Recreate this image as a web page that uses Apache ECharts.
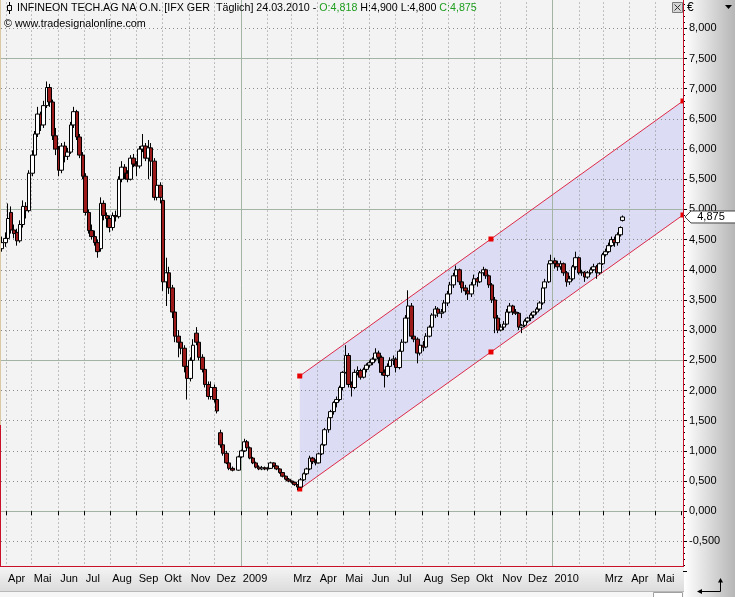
<!DOCTYPE html>
<html><head><meta charset="utf-8">
<script src="https://cdn.jsdelivr.net/npm/echarts@6/dist/echarts.min.js"></script>
<style>html,body{margin:0;padding:0;background:#f3f3f3;overflow:hidden}#c{width:735px;height:597px}</style>
</head><body><div id="c"></div>
<script>
// ---- data ----
const dates = [
'2008-03-27','2008-03-31','2008-04-03','2008-04-07','2008-04-10','2008-04-14','2008-04-17','2008-04-21','2008-04-24','2008-04-28',
'2008-05-02','2008-05-05','2008-05-08','2008-05-12','2008-05-15','2008-05-19','2008-05-22','2008-05-26','2008-05-29','2008-06-02',
'2008-06-05','2008-06-09','2008-06-12','2008-06-16','2008-06-19','2008-06-23','2008-06-26','2008-06-30','2008-07-03','2008-07-07',
'2008-07-10','2008-07-14','2008-07-17','2008-07-21','2008-07-24','2008-07-28','2008-07-31','2008-08-04','2008-08-07','2008-08-11',
'2008-08-14','2008-08-18','2008-08-21','2008-08-25','2008-08-28','2008-09-01','2008-09-04','2008-09-08','2008-09-11','2008-09-15',
'2008-09-18','2008-09-22','2008-09-25','2008-09-29','2008-10-02','2008-10-06','2008-10-09','2008-10-13','2008-10-16','2008-10-20',
'2008-10-23','2008-10-27','2008-10-30','2008-11-03','2008-11-06','2008-11-10','2008-11-13','2008-11-17','2008-11-20','2008-11-24',
'2008-11-27','2008-12-01','2008-12-04','2008-12-08','2008-12-11','2008-12-15','2008-12-18','2008-12-22','2008-12-29','2009-01-02',
'2009-01-05','2009-01-08','2009-01-12','2009-01-15','2009-01-19','2009-01-22','2009-01-26','2009-01-29','2009-02-02','2009-02-05',
'2009-02-09','2009-02-12','2009-02-16','2009-02-19','2009-02-23','2009-02-26','2009-03-02','2009-03-05','2009-03-09','2009-03-12',
'2009-03-16','2009-03-19','2009-03-23','2009-03-26','2009-03-30','2009-04-02','2009-04-06','2009-04-09','2009-04-14','2009-04-16',
'2009-04-20','2009-04-23','2009-04-27','2009-04-30','2009-05-04','2009-05-07','2009-05-11','2009-05-14','2009-05-18','2009-05-21',
'2009-05-25','2009-05-28','2009-06-01','2009-06-04','2009-06-08','2009-06-11','2009-06-15','2009-06-18','2009-06-22','2009-06-25',
'2009-06-29','2009-07-02','2009-07-06','2009-07-09','2009-07-13','2009-07-16','2009-07-20','2009-07-23','2009-07-27','2009-07-30',
'2009-08-03','2009-08-06','2009-08-10','2009-08-13','2009-08-17','2009-08-20','2009-08-24','2009-08-27','2009-08-31','2009-09-03',
'2009-09-07','2009-09-10','2009-09-14','2009-09-17','2009-09-21','2009-09-24','2009-09-28','2009-10-01','2009-10-05','2009-10-08',
'2009-10-12','2009-10-15','2009-10-19','2009-10-22','2009-10-26','2009-10-29','2009-11-02','2009-11-05','2009-11-09','2009-11-12',
'2009-11-16','2009-11-19','2009-11-23','2009-11-26','2009-11-30','2009-12-03','2009-12-07','2009-12-10','2009-12-14','2009-12-17',
'2009-12-21','2009-12-23','2009-12-28','2009-12-30','2010-01-04','2010-01-07','2010-01-11','2010-01-14','2010-01-18','2010-01-21',
'2010-01-25','2010-01-28','2010-02-01','2010-02-04','2010-02-08','2010-02-11','2010-02-15','2010-02-18','2010-02-22','2010-02-25',
'2010-03-01','2010-03-04','2010-03-08','2010-03-11','2010-03-15','2010-03-18','2010-03-22','2010-03-24'];
const opens = [
4.35,4.45,4.52,4.95,4.66,4.62,4.48,4.75,5.05,4.98, 5.60,5.90,6.25,6.58,6.40,6.72,7.02,6.78,6.22,6.00,
5.65,6.05,5.88,5.95,6.40,6.62,6.20,5.90,5.55,4.95, 4.65,4.55,4.45,4.35,5.10,4.90,4.85,4.70,4.90,4.88,
5.50,5.70,5.60,5.50,5.85,5.75,5.72,6.00,6.05,5.85, 6.02,5.80,5.20,5.40,5.15,3.80,3.95,3.70,3.30,2.90,
2.80,2.70,2.40,2.20,2.50,2.95,2.80,2.55,2.35,2.10, 1.90,2.05,1.85,1.30,1.10,0.96,0.80,0.71,0.68,0.90,
1.00,1.15,1.05,0.88,0.80,0.73,0.70,0.72,0.70,0.71, 0.80,0.75,0.70,0.64,0.58,0.53,0.50,0.48,0.44,0.40,
0.52,0.62,0.70,0.88,0.82,0.80,0.95,1.10,1.35,1.55, 1.65,1.80,1.85,2.05,2.30,2.58,2.10,2.05,2.30,2.33,
2.22,2.35,2.42,2.46,2.52,2.62,2.55,2.30,2.25,2.40, 2.50,2.52,2.38,2.65,2.80,3.20,3.40,2.90,2.85,2.62,
2.75,2.72,2.90,3.05,3.25,3.35,3.28,3.30,3.45,3.60, 3.75,3.90,4.00,3.80,3.70,3.65,3.60,3.75,3.85,3.80,
3.95,4.00,3.90,3.75,3.50,3.20,3.00,3.05,3.10,3.30, 3.40,3.30,3.28,3.05,3.08,3.15,3.20,3.25,3.30,3.35,
3.45,3.70,3.80,4.10,4.15,4.10,4.05,4.10,3.95,3.80, 3.85,4.05,4.20,3.95,3.96,3.88,3.95,4.00,4.05,3.95,
4.10,4.25,4.30,4.40,4.50,4.45,4.58,4.818];
const highs = [
4.55,4.62,5.10,5.05,4.75,4.68,4.82,5.15,5.12,5.65, 5.98,6.30,6.70,6.62,6.80,7.12,7.08,6.82,6.35,6.05,
6.10,6.12,6.02,6.45,6.70,6.65,6.25,5.95,5.60,5.00, 4.75,4.65,4.50,5.20,5.15,4.95,4.90,4.95,4.98,5.55,
5.80,5.75,5.65,5.90,5.92,5.80,6.05,6.25,6.10,6.15, 6.10,5.85,5.45,5.45,5.20,4.20,4.05,3.75,3.35,3.00,
2.90,2.75,2.50,2.55,2.85,3.05,2.85,2.60,2.40,2.15, 2.15,2.10,1.90,1.35,1.12,1.00,0.82,0.74,0.92,1.02,
1.20,1.18,1.07,0.90,0.82,0.76,0.75,0.74,0.73,0.82, 0.81,0.76,0.71,0.65,0.59,0.55,0.51,0.49,0.45,0.55,
0.64,0.72,0.92,0.90,0.86,0.97,1.12,1.38,1.58,1.68, 1.82,1.90,2.08,2.32,2.75,2.62,2.15,2.35,2.40,2.36,
2.38,2.45,2.50,2.55,2.70,2.66,2.58,2.35,2.45,2.55, 2.58,2.55,2.68,2.85,3.25,3.66,3.45,3.00,2.88,2.80,
2.82,2.95,3.08,3.28,3.40,3.38,3.35,3.50,3.65,3.80, 3.95,4.07,4.02,3.85,3.75,3.68,3.80,3.92,3.88,3.98,
4.05,4.02,3.92,3.78,3.55,3.25,3.10,3.15,3.35,3.45, 3.42,3.35,3.30,3.10,3.18,3.22,3.28,3.32,3.38,3.48,
3.72,3.85,4.12,4.25,4.20,4.15,4.15,4.12,3.98,3.90, 4.08,4.30,4.22,4.00,3.98,3.98,4.04,4.10,4.08,4.12,
4.28,4.35,4.45,4.55,4.55,4.62,4.72,4.90];
const lows = [
4.30,4.38,4.48,4.60,4.52,4.40,4.45,4.70,4.85,4.95, 5.55,5.85,6.20,6.30,6.35,6.68,6.70,6.15,5.90,5.55,
5.60,5.78,5.82,5.92,6.35,6.15,5.85,5.50,4.90,4.60, 4.50,4.40,4.20,4.30,4.82,4.70,4.62,4.65,4.80,4.85,
5.45,5.50,5.45,5.48,5.70,5.55,5.68,5.95,5.80,5.50, 5.55,5.15,5.15,5.10,3.65,3.40,3.60,3.20,2.80,2.55,
2.60,2.30,1.85,2.15,2.45,2.75,2.50,2.30,2.05,1.85, 1.85,1.80,1.62,1.05,0.92,0.78,0.68,0.66,0.67,0.88,
0.98,1.00,0.86,0.78,0.71,0.68,0.68,0.68,0.67,0.70, 0.73,0.68,0.62,0.56,0.51,0.48,0.46,0.42,0.35,0.39,
0.50,0.60,0.68,0.78,0.76,0.79,0.93,1.08,1.30,1.50, 1.60,1.72,1.82,2.00,2.28,2.05,1.90,2.02,2.25,2.18,
2.20,2.30,2.38,2.42,2.48,2.45,2.25,2.05,2.22,2.38, 2.42,2.30,2.35,2.60,2.78,3.15,2.85,2.80,2.45,2.58,
2.65,2.70,2.88,3.02,3.20,3.22,3.20,3.28,3.40,3.55, 3.70,3.85,3.75,3.62,3.58,3.50,3.55,3.70,3.72,3.78,
3.90,3.85,3.70,3.45,2.95,2.95,2.98,3.00,3.08,3.28, 3.25,3.25,3.00,2.95,3.05,3.12,3.15,3.20,3.26,3.32,
3.42,3.68,3.78,4.05,4.02,3.98,4.00,3.90,3.72,3.75, 3.82,4.00,3.92,3.90,3.80,3.85,3.92,3.98,3.85,3.92,
4.08,4.22,4.28,4.38,4.38,4.40,4.55,4.80];
const closes = [
4.45,4.52,4.85,4.66,4.60,4.48,4.75,5.05,4.98,5.60, 5.90,6.25,6.58,6.40,6.72,7.02,6.78,6.22,6.00,5.65,
6.05,5.88,5.95,6.40,6.62,6.20,5.90,5.55,4.95,4.65, 4.55,4.45,4.30,5.10,4.90,4.85,4.70,4.90,4.88,5.50,
5.70,5.60,5.50,5.85,5.75,5.72,6.00,6.05,5.85,6.02, 5.80,5.20,5.40,5.20,3.80,3.95,3.70,3.30,2.90,2.80,
2.70,2.40,2.20,2.50,2.75,2.80,2.55,2.35,2.10,1.90, 2.05,1.85,1.66,1.10,0.96,0.80,0.71,0.68,0.90,1.00,
1.15,1.05,0.88,0.80,0.73,0.70,0.72,0.70,0.71,0.80, 0.75,0.70,0.64,0.58,0.53,0.50,0.48,0.44,0.40,0.52,
0.62,0.70,0.88,0.82,0.80,0.95,1.10,1.35,1.55,1.65, 1.80,1.85,2.05,2.30,2.58,2.10,2.05,2.30,2.33,2.22,
2.35,2.42,2.46,2.52,2.62,2.55,2.30,2.25,2.40,2.50, 2.52,2.38,2.65,2.80,3.20,3.40,2.90,2.85,2.62,2.75,
2.72,2.90,3.05,3.25,3.35,3.28,3.30,3.45,3.60,3.75, 3.90,4.00,3.80,3.70,3.65,3.60,3.75,3.85,3.80,3.95,
4.00,3.90,3.75,3.50,3.20,3.00,3.05,3.10,3.30,3.40, 3.30,3.28,3.05,3.08,3.15,3.20,3.25,3.30,3.35,3.45,
3.70,3.80,4.10,4.15,4.10,4.05,4.10,3.95,3.80,3.85, 4.05,4.20,3.95,3.96,3.88,3.95,4.00,4.05,3.95,4.10,
4.25,4.30,4.40,4.50,4.45,4.58,4.70,4.875];

const channelDates = ['2009-03-11','2009-10-21','2010-06-03'];
const channelUpper = [2.240, 4.510, 6.797];
const channelLower = [0.368, 2.638, 4.908];

const yGridValues = [-0.5,0,0.5,1,1.5,2,2.5,3,3.5,4,4.5,5,5.5,6,6.5,7,7.5,8];
const ySolidValues = [0,2.5,5,7.5];
const monthGrid = ['2008-04-01','2008-05-01','2008-06-01','2008-07-01','2008-08-01','2008-09-01','2008-10-01','2008-11-01','2008-12-01',
'2009-02-01','2009-03-01','2009-04-01','2009-05-01','2009-06-01','2009-07-01','2009-08-01','2009-09-01','2009-10-01','2009-11-01','2009-12-01',
'2010-02-01','2010-03-01','2010-04-01','2010-05-01'];
const yearGrid = ['2009-01-01','2010-01-01'];
const monthNames = ['Jan','Feb','Mrz','Apr','Mai','Jun','Jul','Aug','Sep','Okt','Nov','Dez'];
const xMin = '2008-03-26', xMax = '2010-06-03';

// ---- chart ----
const ts = s => +new Date(s + 'T00:00:00');
const fmt = v => v.toFixed(3).replace('.', ',');
const FONT = '"Liberation Sans", Arial, sans-serif';
const chart = echarts.init(document.getElementById('c'), null, {renderer: 'canvas', width: 735, height: 597});

const candleData = dates.map((d, i) => [ts(d), opens[i], closes[i], lows[i], highs[i]]);
const last = closes.length - 1;
const dp = dates[last].split('-');
const headerText = 'INFINEON TECH.AG NA O.N. [IFX GER  T\u00e4glich] ' + dp[2] + '.' + dp[1] + '.' + dp[0] +
  ' - {g|O:' + fmt(opens[last]) + '} H:' + fmt(highs[last]) + ' L:' + fmt(lows[last]) + ' {g|C:' + fmt(closes[last]) + '}';

const dotted = {color: '#8a8a8a', type: [1, 3], width: 1};
const solid = {color: '#a4b4a4', type: 'solid', width: 1};
const gridLines = []
  .concat(yGridValues.filter(v => ySolidValues.indexOf(v) < 0).map(v => ({yAxis: v, lineStyle: dotted})))
  .concat(ySolidValues.map(v => ({yAxis: v, lineStyle: solid})))
  .concat(monthGrid.map(d => ({xAxis: ts(d), lineStyle: dotted})))
  .concat(yearGrid.map(d => ({xAxis: ts(d), lineStyle: solid})));

const option = {
  animation: false,
  backgroundColor: 'transparent',
  grid: {left: 1, right: 52, top: -1.8, bottom: 25.45, containLabel: false, outerBoundsMode: 'none'},
  xAxis: {
    type: 'time', min: ts(xMin), max: ts(xMax), z: 60,
    minInterval: 28 * 864e5, maxInterval: 31 * 864e5,
    axisLine: {show: false}, splitLine: {show: false},
    axisTick: {show: true, length: 4, lineStyle: {color: '#000'}},
    axisLabel: {
      formatter: function (value) {
        const d = new Date(value);
        if (d.getDate() !== 1) return '';
        if (value > ts(xMax) - 15 * 864e5) return '';
        const m = d.getMonth();
        if (m === 0) return String(d.getFullYear());
        if (m === 1) return '';
        return monthNames[m];
      },
      color: '#000', fontSize: 11, fontFamily: FONT, align: 'left', margin: 2, padding: [0, 0, 0, 2],
      showMinLabel: false, showMaxLabel: false, hideOverlap: false
    }
  },
  yAxis: {
    type: 'value', position: 'right', min: -1, max: 8.5, interval: 0.5, z: 60,
    axisLine: {show: false}, splitLine: {show: false},
    axisTick: {show: true, length: 4, lineStyle: {color: '#000'}},
    minorTick: {show: true, splitNumber: 5, length: 2, lineStyle: {color: '#000'}},
    minorSplitLine: {show: false},
    axisLabel: {formatter: v => fmt(v), color: '#000', fontSize: 11, fontFamily: FONT, margin: 6, showMinLabel: false, showMaxLabel: false}
  },
  series: [
    {
      type: 'custom', z: 1, silent: true, clip: false,
      data: [[ts(channelDates[0]), channelUpper[0]]],
      encode: {x: 0, y: 1},
      renderItem: function (params, api) {
        const pts = [];
        for (let i = 0; i < channelDates.length; i++) pts.push(api.coord([ts(channelDates[i]), channelUpper[i]]));
        for (let i = channelDates.length - 1; i >= 0; i--) pts.push(api.coord([ts(channelDates[i]), channelLower[i]]));
        return {type: 'polygon', shape: {points: pts}, style: {fill: '#dcddf4'}};
      }
    },
    {
      type: 'line', z: 3, silent: true, clip: false,
      data: channelDates.map((d, i) => [ts(d), channelUpper[i]]),
      symbol: 'rect', symbolSize: 5, showSymbol: true, showAllSymbol: true,
      lineStyle: {color: '#dd2a48', width: 1}, itemStyle: {color: '#e80000'},
      markLine: {z: 2, silent: true, symbol: 'none', label: {show: false}, animation: false, data: gridLines}
    },
    {
      type: 'line', z: 3, silent: true, clip: false,
      data: channelDates.map((d, i) => [ts(d), channelLower[i]]),
      symbol: 'rect', symbolSize: 5, showSymbol: true, showAllSymbol: true,
      lineStyle: {color: '#dd2a48', width: 1}, itemStyle: {color: '#e80000'}
    },
    {
      type: 'candlestick', z: 4, silent: true,
      data: candleData, encode: {x: 0, y: [1, 2, 3, 4]},
      barWidth: 4,
      itemStyle: {color: '#ffffff', color0: '#9c1a1a', borderColor: '#000000', borderColor0: '#000000', borderWidth: 1}
    }
  ],
  graphic: {elements: [
    {type: 'rect', z: -100, silent: true, shape: {x: 0, y: 0, width: 683, height: 566}, style: {fill: '#f3f3f3'}},
    {type: 'rect', z: 50, silent: true, shape: {x: 684, y: 0, width: 51, height: 597},
      style: {fill: new echarts.graphic.LinearGradient(0, 0, 1, 0, [{offset: 0, color: '#ffffff'}, {offset: 1, color: '#b6b6b6'}])}},
    {type: 'rect', z: 50, silent: true, shape: {x: 0, y: 567, width: 684, height: 24},
      style: {fill: new echarts.graphic.LinearGradient(0, 0, 0, 1, [{offset: 0, color: '#f4f4f4'}, {offset: 1, color: '#dcdcdc'}])}},
    {type: 'rect', z: 50, silent: true, shape: {x: 0, y: 591, width: 684, height: 6}, style: {fill: '#f6f6f6'}},
    {type: 'line', z: 51, silent: true, shape: {x1: 0, y1: 591.5, x2: 684, y2: 591.5}, style: {stroke: '#b8b8b8', lineWidth: 1}},
    {type: 'rect', z: 51, silent: true, shape: {x: 653.5, y: 592.5, width: 29, height: 6}, style: {fill: '#ffffff', stroke: '#a0a0a0', lineWidth: 1}},
    {type: 'line', z: 70, silent: true, shape: {x1: 683.5, y1: 0, x2: 683.5, y2: 567}, style: {stroke: '#c8102a', lineWidth: 1}},
    {type: 'line', z: 70, silent: true, shape: {x1: 0, y1: 566.5, x2: 684, y2: 566.5}, style: {stroke: '#c8102a', lineWidth: 1}},
    {type: 'line', z: 70, silent: true, shape: {x1: 0.5, y1: 0, x2: 0.5, y2: 425}, style: {stroke: '#d8c9a4', lineWidth: 1}},
    {type: 'line', z: 70, silent: true, shape: {x1: 0.5, y1: 425, x2: 0.5, y2: 566}, style: {stroke: '#c8102a', lineWidth: 1}},
    {type: 'line', z: 70, silent: true, shape: {x1: 9.5, y1: 2, x2: 9.5, y2: 14}, style: {stroke: '#000', lineWidth: 1}},
    {type: 'rect', z: 71, silent: true, shape: {x: 7.5, y: 5.5, width: 4, height: 5}, style: {fill: '#f3f3f3', stroke: '#000', lineWidth: 1}},
    {type: 'text', z: 70, silent: true, x: 17, y: 8,
      style: {text: headerText, fill: '#000', fontSize: 10.7, fontFamily: FONT, verticalAlign: 'middle',
        rich: {g: {fill: '#1f9e1f', fontSize: 10.7, fontFamily: FONT}}}},
    {type: 'text', z: 70, silent: true, x: 4, y: 24,
      style: {text: '\u00a9 www.tradesignalonline.com', fill: '#000', fontSize: 10.8, fontFamily: FONT, verticalAlign: 'middle'}},
    {type: 'rect', z: 70, silent: true, shape: {x: 672.5, y: 2.5, width: 10, height: 10}, style: {fill: '#d6d6d6', stroke: '#7a7a7a', lineWidth: 1}},
    {type: 'line', z: 71, silent: true, shape: {x1: 674.5, y1: 4.5, x2: 680.5, y2: 10.5}, style: {stroke: '#333', lineWidth: 1}},
    {type: 'line', z: 71, silent: true, shape: {x1: 680.5, y1: 4.5, x2: 674.5, y2: 10.5}, style: {stroke: '#333', lineWidth: 1}},
    {type: 'text', z: 70, silent: true, x: 687, y: 8, style: {text: '\u20ac', fill: '#000', fontSize: 12, fontFamily: FONT, verticalAlign: 'middle'}},
    {type: 'polygon', z: 70, silent: true, shape: {points: [[725, 5], [732, 5], [728.5, 9]]}, style: {fill: '#000'}},
    {type: 'polyline', z: 70, silent: true, shape: {points: [[699, 591.5], [720.5, 591.5], [720.5, 580]]}, style: {stroke: '#000', lineWidth: 1, fill: null}},
    {type: 'polygon', z: 70, silent: true, shape: {points: [[697, 591.5], [702, 589], [702, 594]]}, style: {fill: '#000'}},
    {type: 'polygon', z: 70, silent: true, shape: {points: [[720.5, 578], [718, 582.5], [723, 582.5]]}, style: {fill: '#000'}}
  ]}
};
chart.setOption(option);

const py = chart.convertToPixel({yAxisIndex: 0}, closes[last]);
chart.setOption({graphic: {elements: [
  {id: 'pbox', type: 'polygon', z: 80, silent: true,
    shape: {points: [[685, py], [691, py - 6], [736, py - 6], [736, py + 6], [691, py + 6]]},
    style: {fill: '#ffffff', stroke: '#404040', lineWidth: 1}},
  {id: 'ptext', type: 'text', z: 81, silent: true, x: 711, y: py,
    style: {text: fmt(closes[last]), fill: '#000', fontSize: 11, fontFamily: FONT, align: 'center', verticalAlign: 'middle'}}
]}});
</script>
</body></html>
